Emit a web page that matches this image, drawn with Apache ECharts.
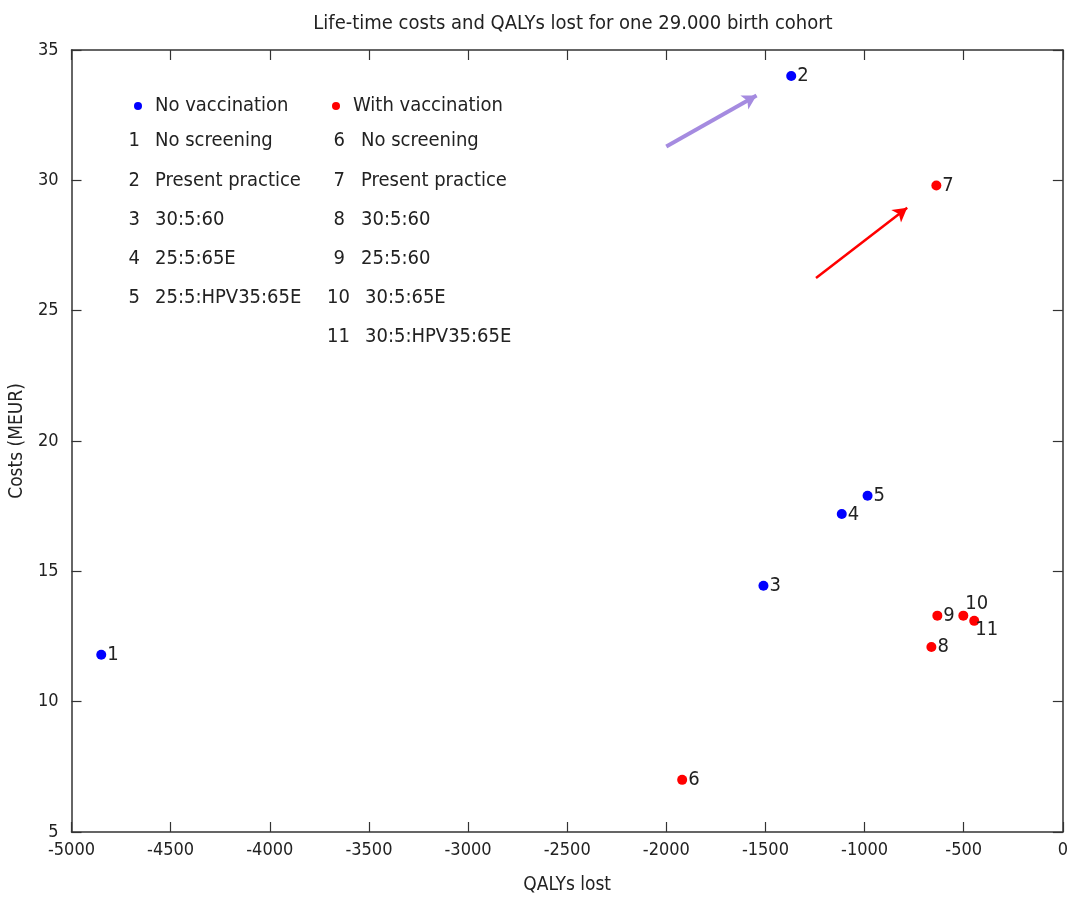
<!DOCTYPE html>
<html>
<head>
<meta charset="utf-8">
<script src="https://cdn.jsdelivr.net/npm/echarts@6/dist/echarts.min.js"></script>
<style>
html,body{margin:0;padding:0;background:#fff;}
#c{width:1071px;height:900px;}
</style>
</head>
<body>
<div id="c"></div>
<script>
// ---- data ----
const titleText = 'Life-time costs and QALYs lost for one 29.000 birth cohort';
const xName = 'QALYs lost';
const yName = 'Costs (MEUR)';
const noVacIds = ['1', '2', '3', '4', '5'];
const noVacQaly = [-4850, -1370, -1510, -1115, -985];
const noVacCost = [11.8, 34.0, 14.45, 17.2, 17.9];
const vacIds = ['6', '7', '8', '9', '10', '11'];
const vacQaly = [-1920, -638, -663, -633, -502, -447];
const vacCost = [7.0, 29.8, 12.1, 13.3, 13.3, 13.1];
const noVacStrategies = ['No screening', 'Present practice', '30:5:60', '25:5:65E', '25:5:HPV35:65E'];
const vacStrategies = ['No screening', 'Present practice', '30:5:60', '25:5:60', '30:5:65E', '30:5:HPV35:65E'];
const purpleArrow = [[-2000, 31.3], [-1545, 33.25]];
const redArrow = [[-1245, 26.25], [-785, 28.95]];
const xMin = -5000, xMax = 0, xStep = 500;
const yMin = 5, yMax = 35, yStep = 5;

const FONT = "'Liberation Sans Narrow', 'Arial Narrow', 'DejaVu Sans Condensed', sans-serif";
const TXT = '#222';

// label placement for crowded points (style only)
const labelPlacement = {'4': [11, -4], '10': [7, -17], '11': [6, 4]};

function pts(xs, ys, ids) {
  return xs.map((x, i) => {
    const o = {value: [x, ys[i]], name: ids[i]};
    if (labelPlacement[ids[i]]) o.label = {position: labelPlacement[ids[i]], verticalAlign:'top', align:'left'};
    return o;
  });
}

// legend texts as graphic elements
const graphics = [];
const rowY = [141, 181, 220, 259, 298, 337];
noVacStrategies.forEach((s, i) => {
  graphics.push({type:'text', x:140, y:rowY[i], style:{text:noVacIds[i], font:'20px ' + FONT, fill:TXT, textAlign:'right', textVerticalAlign:'middle'}});
  graphics.push({type:'text', x:155, y:rowY[i], style:{text:s, font:'20px ' + FONT, fill:TXT, textAlign:'left', textVerticalAlign:'middle'}});
});
vacStrategies.forEach((s, i) => {
  const id = vacIds[i];
  graphics.push({type:'text', x:id.length > 1 ? 350 : 345, y:rowY[i], style:{text:id, font:'20px ' + FONT, fill:TXT, textAlign:'right', textVerticalAlign:'middle'}});
  graphics.push({type:'text', x:id.length > 1 ? 365 : 361, y:rowY[i], style:{text:s, font:'20px ' + FONT, fill:TXT, textAlign:'left', textVerticalAlign:'middle'}});
});

const axisLineStyle = {color:'#333', width:1.5};
const tickStyle = {show:true, inside:true, length:10, lineStyle:{color:'#333', width:1.2}};

const chart = echarts.init(document.getElementById('c'), null, {renderer:'canvas'});
chart.setOption({
  animation:false,
  backgroundColor:'#fff',
  title:{text:titleText, left:568, top:9, textAlign:'center',
    textStyle:{fontFamily:FONT, fontSize:20, fontWeight:'normal', color:TXT}},
  legend:[
    {data:['No vaccination'], left:129, top:91, icon:'circle', itemWidth:8, itemHeight:8,
      textStyle:{fontFamily:FONT, fontSize:20, color:TXT, padding:[0,0,0,8]}},
    {data:['With vaccination'], left:327, top:91, icon:'circle', itemWidth:8, itemHeight:8,
      textStyle:{fontFamily:FONT, fontSize:20, color:TXT, padding:[0,0,0,8]}}
  ],
  graphic: graphics,
  grid:{left:71, right:6, top:50, bottom:67, show:false},
  xAxis:[
    {type:'value', min:xMin, max:xMax, interval:xStep, position:'bottom',
      name:xName, nameLocation:'middle', nameGap:44,
      nameTextStyle:{fontFamily:FONT, fontSize:19, color:TXT},
      axisLine:{show:true, onZero:false, lineStyle:axisLineStyle},
      axisTick:tickStyle, splitLine:{show:false},
      axisLabel:{fontFamily:FONT, fontSize:18, color:TXT, margin:9, formatter: v => String(v)}},
    {type:'value', min:xMin, max:xMax, interval:xStep, position:'top',
      axisLine:{show:true, onZero:false, lineStyle:axisLineStyle},
      axisTick:tickStyle, splitLine:{show:false}, axisLabel:{show:false}}
  ],
  yAxis:[
    {type:'value', min:yMin, max:yMax, interval:yStep, position:'left',
      name:yName, nameLocation:'middle', nameGap:43, nameRotate:90,
      nameTextStyle:{fontFamily:FONT, fontSize:19, color:TXT},
      axisLine:{show:true, onZero:false, lineStyle:axisLineStyle},
      axisTick:tickStyle, splitLine:{show:false},
      axisLabel:{fontFamily:FONT, fontSize:18, color:TXT, margin:13}},
    {type:'value', min:yMin, max:yMax, interval:yStep, position:'right',
      axisLine:{show:true, onZero:false, lineStyle:axisLineStyle},
      axisTick:tickStyle, splitLine:{show:false}, axisLabel:{show:false}}
  ],
  series:[
    {name:'No vaccination', type:'scatter', symbol:'circle', symbolSize:10,
      itemStyle:{color:'#0000ff', opacity:1},
      data:pts(noVacQaly, noVacCost, noVacIds),
      labelLayout:{hideOverlap:false},
      label:{show:true, position:'right', distance:1, formatter:p => p.name,
        fontFamily:FONT, fontSize:20, color:TXT},
      emphasis:{disabled:true},
      markLine:{silent:true, symbol:['none','arrow'], symbolSize:[12,14],
        label:{show:false},
        lineStyle:{color:'#a58be0', width:4, type:'solid'},
        data:[[{coord:purpleArrow[0]}, {coord:purpleArrow[1]}]]}},
    {name:'With vaccination', type:'scatter', symbol:'circle', symbolSize:10,
      itemStyle:{color:'#ff0000', opacity:1},
      data:pts(vacQaly, vacCost, vacIds),
      labelLayout:{hideOverlap:false},
      label:{show:true, position:'right', distance:1, formatter:p => p.name,
        fontFamily:FONT, fontSize:20, color:TXT},
      emphasis:{disabled:true},
      markLine:{silent:true, symbol:['none','arrow'], symbolSize:[12,14],
        label:{show:false},
        lineStyle:{color:'#ff0000', width:2.5, type:'solid'},
        data:[[{coord:redArrow[0]}, {coord:redArrow[1]}]]}}
  ]
});
</script>
</body>
</html>
